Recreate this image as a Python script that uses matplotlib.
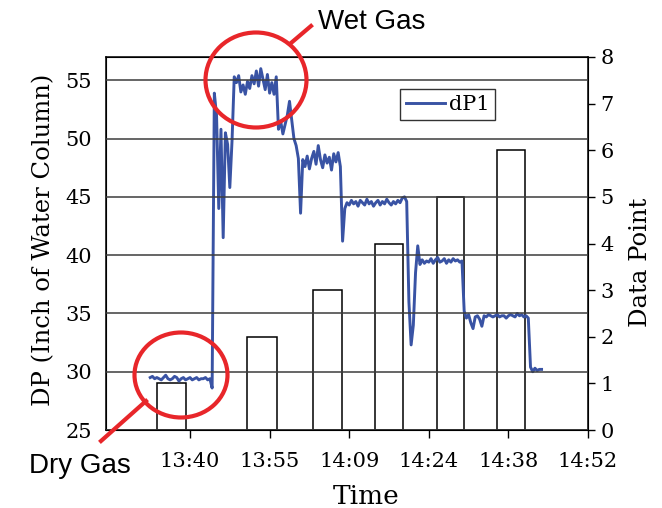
import numpy as np
import matplotlib
matplotlib.use("Agg")
import matplotlib.pyplot as plt
from matplotlib.patches import Ellipse
from matplotlib.lines import Line2D

# dP1 samples, one every 0.4 min starting 13:32.8 (minutes past 13:00)
T0 = 32.8
DT = 0.4
dp1 = [
    # dry gas
    29.5, 29.6, 29.4, 29.5, 29.4, 29.3, 29.5, 29.7, 29.4, 29.3,
    29.4, 29.6, 29.5, 29.2, 29.4, 29.5, 29.3, 29.4, 29.5, 29.3,
    29.4, 29.5, 29.3, 29.4, 29.4, 29.5, 29.3, 29.4, 28.6,
    # transition
    53.9, 52.0, 44.0, 50.8, 41.5, 50.5, 49.5, 45.8, 49.8,
    # wet gas plateau
    55.3, 54.8, 55.4, 54.0, 54.6, 53.8, 54.9, 54.3, 55.4, 54.7,
    55.8, 54.5, 56.0, 55.1, 54.2, 55.5, 53.9, 54.8, 53.8, 55.3,
    # step down
    50.8, 51.5, 50.4, 51.2, 52.0, 53.2, 51.6, 50.0, 49.4, 48.3,
    43.6, 48.2,
    # ~48
    47.6, 48.5, 47.4, 48.3, 48.9, 47.8, 49.4, 48.2, 47.5, 48.6,
    47.9, 48.4, 47.3, 48.7, 48.0, 48.8, 47.6,
    41.2,
    # ~44.5
    44.0, 44.5, 44.3, 44.7, 44.4, 44.6, 44.2, 44.7, 44.5, 44.3,
    44.8, 44.4, 44.6, 44.2, 44.5, 44.7, 44.3, 44.6, 44.4, 44.8,
    44.5, 44.3, 44.6, 44.4, 44.7, 44.5, 44.9, 45.0, 44.6,
    36.0, 32.3, 34.0, 38.5, 40.8, 39.2,
    # ~39.5
    39.6, 39.3, 39.5, 39.4, 39.7, 39.3, 39.6, 39.8, 39.4, 39.5,
    39.7, 39.3, 39.6, 39.4, 39.7, 39.5, 39.6, 39.4, 39.5,
    # ~34.8
    35.2, 34.6, 34.9, 34.2, 33.7, 34.7, 34.8, 34.5, 33.9, 34.8,
    34.7, 34.9, 34.8, 34.7, 34.8, 34.9, 34.7, 34.8, 34.8, 34.6,
    34.8, 34.9, 34.8, 34.7, 35.0, 34.8, 34.9, 34.7, 34.8, 34.6,
    30.4,
    30.0, 30.3, 30.1, 30.2, 30.2,
]
t_dp1 = T0 + DT * np.arange(len(dp1))

# data point bars (start / end in minutes past 13:00, height)
bar_start = [34.0, 50.3, 62.2, 73.5, 84.7, 95.5]
bar_end = [39.3, 55.7, 67.5, 78.5, 89.6, 100.6]
bar_point = [1, 2, 3, 4, 5, 6]

xticks = [40, 54.4, 68.8, 83.2, 97.6, 112]
xlabels = ["13:40", "13:55", "14:09", "14:24", "14:38", "14:52"]

SERIF = ["DejaVu Serif"]
NARROW = ["Liberation Sans Narrow", "Liberation Sans"]
BLUE = "#3953A4"
RED = "#E8262A"

W, H = 662, 508
fig = plt.figure(figsize=(W / 100, H / 100), dpi=100)
ax = fig.add_axes([106 / W, 1 - 430 / H, 482 / W, 373 / H])
ax2 = ax.twinx()
ax.set_zorder(ax2.get_zorder() + 1)
ax.patch.set_visible(False)

# bars (outline only) on right axis
widths = [e - s for s, e in zip(bar_start, bar_end)]
ax2.bar(bar_start, bar_point, width=widths, align="edge",
        facecolor="none", edgecolor="black", linewidth=1.1)
ax2.set_ylim(0, 8)
ax2.set_yticks(range(0, 9))
ax2.tick_params(axis="y", direction="out", length=5, width=1, labelsize=15, pad=4)
for lab in ax2.get_yticklabels():
    lab.set_family(SERIF)

ax.plot(t_dp1, dp1, color=BLUE, linewidth=2.1, label="dP1")
ax.set_xlim(24.8, 112)
ax.set_ylim(25, 57)
ax.set_yticks([25, 30, 35, 40, 45, 50, 55])
ax.yaxis.grid(True, color="#3c3c3c", linewidth=1.1)
ax.set_axisbelow(False)
ax.set_xticks(xticks)
ax.set_xticklabels(xlabels)
ax.tick_params(axis="x", direction="out", length=6, width=1, labelsize=15, pad=10)
ax.tick_params(axis="y", length=0, labelsize=15, pad=10)
for lab in ax.get_xticklabels() + ax.get_yticklabels():
    lab.set_family(SERIF)
for sp in ax.spines.values():
    sp.set_linewidth(1.1)

ax.set_xlabel("Time", fontsize=19, family=SERIF)
ax.xaxis.set_label_coords(0.54, -0.145)
ax.set_ylabel("DP (Inch of Water Column)", fontsize=17.5, family=SERIF)
ax.yaxis.set_label_coords(-0.105, 0.51)
ax2.set_ylabel("Data Point", fontsize=17.5, family=SERIF, rotation=90)
ax2.yaxis.set_label_coords(1.085, 0.45)

leg = ax.legend(loc="upper right", bbox_to_anchor=(0.808, 0.915),
                prop={"family": SERIF, "size": 15}, frameon=True, fancybox=False,
                handlelength=1.9, handletextpad=0.15, borderpad=0.3,
                borderaxespad=0)
leg.get_frame().set_edgecolor("black")
leg.get_frame().set_linewidth(1.0)

# red annotation circles
def fx(px):
    return px / W

def fy(py):
    return 1 - py / H

fig.patches.append(Ellipse((fx(256), fy(80)), 101 / W, 95 / H, transform=fig.transFigure,
                           fill=False, edgecolor=RED, linewidth=3))
fig.lines.append(Line2D([fx(291), fx(311)], [fy(43), fy(26)], transform=fig.transFigure,
                        color=RED, linewidth=3))
fig.text(fx(318), fy(22), "Wet Gas", fontsize=20, family=NARROW, va="center", ha="left")

fig.patches.append(Ellipse((fx(181), fy(375)), 93 / W, 85 / H, transform=fig.transFigure,
                           fill=False, edgecolor=RED, linewidth=3))
fig.lines.append(Line2D([fx(146), fx(101)], [fy(401), fy(441)], transform=fig.transFigure,
                        color=RED, linewidth=3))
fig.text(fx(80), fy(466), "Dry Gas", fontsize=20, family=NARROW, va="center", ha="center")

fig.savefig("out.png", dpi=100)
